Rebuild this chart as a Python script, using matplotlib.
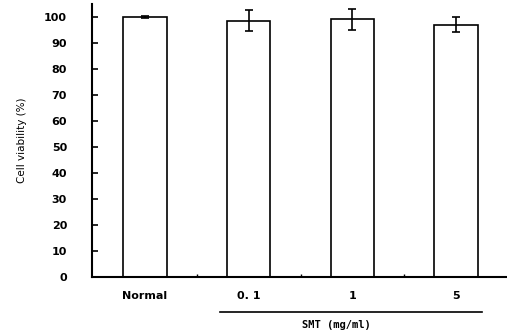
import matplotlib
matplotlib.use("Agg")
import matplotlib.pyplot as plt
import matplotlib.transforms as mtransforms

# data
groups = ["Normal", "0.1", "1", "5"]
tick_labels = ["Normal", "0. 1", "1", "5"]
viability = [100.0, 98.6, 99.2, 97.0]
errors = [0.4, 4.0, 4.0, 2.9]
yticks = [0, 10, 20, 30, 40, 50, 60, 70, 80, 90, 100]
group_title = "SMT (mg/ml)"

fig = plt.figure(figsize=(5.07, 3.30), dpi=100)
ax = fig.add_axes([0.1815, 0.1606, 0.8185, 0.827])

x = list(range(len(groups)))
ax.bar(x, viability, width=0.42, color="white", edgecolor="black", linewidth=1.2,
       yerr=errors, capsize=2.6, error_kw=dict(elinewidth=1.2, capthick=1.2, ecolor="black"))

ax.set_xlim(-0.51, 3.49)
ax.set_ylim(0, 105)
ax.set_yticks(yticks)
ax.set_yticklabels([str(v) for v in yticks], fontsize=8, fontweight="bold")
ax.set_xticks(x)
ax.set_xticklabels(tick_labels, fontsize=8, fontweight="bold")
ax.set_xticks([0.5, 1.5, 2.5], minor=True)
ax.tick_params(axis="y", direction="in", length=4, width=1.2, pad=18)
ax.tick_params(axis="x", which="major", length=0, pad=10)
ax.tick_params(axis="x", which="minor", direction="in", length=2, width=1)

for side in ["top", "right"]:
    ax.spines[side].set_visible(False)
for side in ["left", "bottom"]:
    ax.spines[side].set_linewidth(1.5)

ax.set_ylabel("Cell viability (%)", fontsize=7.5, labelpad=12)

# group bracket under the SMT doses
trans = mtransforms.blended_transform_factory(ax.transData, ax.transAxes)
ax.plot([0.72, 3.25], [-0.127, -0.127], color="black", linewidth=1.2,
        transform=trans, clip_on=False)
ax.text(1.85, -0.177, group_title, transform=trans, ha="center", va="center",
        fontsize=7.5, fontweight="bold", family="DejaVu Sans Mono")

fig.savefig("out.png", dpi=100)
